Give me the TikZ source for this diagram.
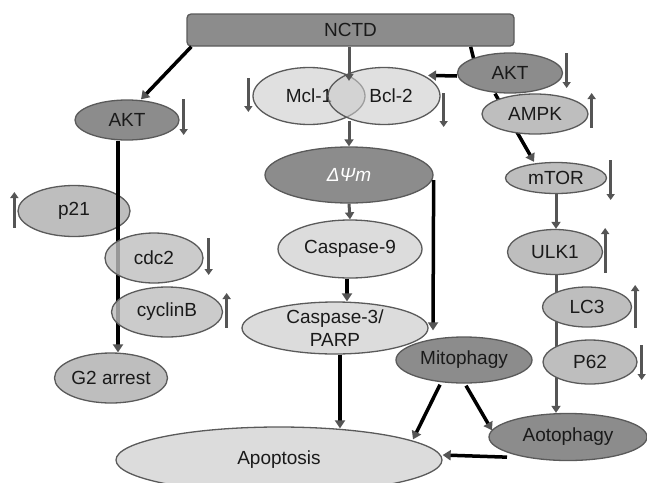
\documentclass[tikz,border=0pt]{standalone}
\usepackage{fontspec}
\setmainfont{Liberation Sans}
\usetikzlibrary{shapes.geometric,arrows.meta,calc}
\pgfdeclarelayer{bg}
\pgfsetlayers{bg,main}
\definecolor{edge}{HTML}{5A5A5A}
\definecolor{dk}{HTML}{8C8C8C}
\definecolor{md}{HTML}{BEBEBE}
\definecolor{lt}{HTML}{DCDCDC}
\definecolor{ink}{HTML}{1A1A1A}
\definecolor{gline}{HTML}{555555}
\begin{document}
\begin{tikzpicture}[x=1pt,y=-1pt,
  font=\fontsize{19}{23}\selectfont, text=ink,
  el/.style={ellipse,draw=edge,line width=1.3pt,inner sep=0pt},
  dark/.style={el,fill=dk},
  mid/.style={el,fill=md},
  light/.style={el,fill=lt},
  conn/.style={line width=3.5pt,black,-{Triangle[length=8pt,width=10pt,color=gline]}},
  gconn/.style={line width=3pt,gline,-{Triangle[length=7pt,width=9pt]}},
  plainconn/.style={line width=3.5pt,black},
  ind/.style={line width=3pt,gline},
  inddown/.style={ind,-{Triangle[length=6pt,width=8pt]}},
  indup/.style={ind,{Triangle[length=6pt,width=8pt]}-}]
\useasboundingbox (0,0) rectangle (647,482);
\clip (0,0) rectangle (647,482);

% nodes
\node[draw=edge,fill=dk,line width=1.3pt,rounded corners=4pt,minimum width=327pt,minimum height=32pt,inner sep=0pt] (nctd) at (350.5,30) {NCTD};
\node[dark,minimum width=104pt,minimum height=40pt] (akt1) at (127,120) {AKT};
\node[el,fill=md!80!white,fill opacity=0.6,text opacity=1,minimum width=112pt,minimum height=57pt] (mcl) at (309,96) {Mcl-1\hspace{16pt}};
\node[el,fill=md!80!white,fill opacity=0.6,text opacity=1,minimum width=112pt,minimum height=57pt] (bcl) at (384,96) {\hspace{14pt}Bcl-2};
\node[dark,minimum width=168pt,minimum height=56pt,text=white] (dpm) at (349,175) {\itshape ΔΨm};
\node[light,minimum width=144pt,minimum height=58pt] (cas9) at (350,249) {Caspase-9};
\node[light,minimum width=186pt,minimum height=50pt,align=center] (cas3) at (335,328) {Caspase-3/\\PARP};
\node[dark,minimum width=136pt,minimum height=46pt] (mito) at (464,360) {Mitophagy};
\node[light,minimum width=326pt,minimum height=66pt] (apo) at (279,460) {Apoptosis};
\node[dark,minimum width=158pt,minimum height=47pt] (auto) at (568,437) {Aotophagy};
\node[dark,minimum width=105pt,minimum height=40pt] (akt2) at (510,73) {AKT};
\node[mid,minimum width=106pt,minimum height=40pt] (ampk) at (535,114) {AMPK};
\node[mid,minimum width=101pt,minimum height=31pt] (mtor) at (556,178) {mTOR};
\node[mid,minimum width=95pt,minimum height=45pt] (ulk) at (555,252) {ULK1};
\node[mid,minimum width=89pt,minimum height=40pt] (lc3) at (587,307) {LC3};
\node[mid,minimum width=94pt,minimum height=44pt] (p62) at (590,362) {P62};
\node[mid,minimum width=112pt,minimum height=51pt] (p21) at (74,211) {p21};
\node[mid,minimum width=113pt,minimum height=50pt] (g2) at (111,378) {G2 arrest};

% AKT -> G2 arrest line drawn over p21, under cdc2 and cyclinB
\draw[conn] ($(akt1.south)+(-9,0)$) -- ($(g2.north)+(7,0)$);
\node[el,fill=md,fill opacity=0.8,text opacity=1,minimum width=98pt,minimum height=50pt] (cdc2) at (154,258) {cdc2};
\node[el,fill=md,fill opacity=0.8,text opacity=1,minimum width=111pt,minimum height=50pt] (cyc) at (167,312) {cyclinB};

\coordinate (ovtop) at ($(dpm.north |- mcl.north)+(0,14)$);
\coordinate (ovbot) at ($(dpm.north |- mcl.south)+(0,-4)$);

% connectors behind nodes
\begin{pgfonlayer}{bg}
  \draw[plainconn] ($(nctd.south east)+(-44,0)$) -- ($(akt2.north)+(-35,12)$);
  \draw[conn] ($(akt2.south)+(-15,0)$) -- ($(mtor.north)+(-22,0)$);
  \draw[gconn] (ulk.south -| mtor.south) -- (auto.north -| mtor.south);
\end{pgfonlayer}

% connectors on top
\draw[conn] ($(nctd.south west)+(5,0)$) -- ($(akt1.north)+(14,0)$);
\draw[gconn] (nctd.south -| ovtop) -- (ovtop);
\draw[gconn] (ovbot) -- (dpm.north);
\draw[gconn] (dpm.south) -- (cas9.north);
\draw[conn] ($(cas9.south)+(-3,0)$) -- ($(cas3.north)+(12,0)$);
\draw[conn] ($(cas3.south)+(5,0)$) -- ($(apo.north)+(61,2)$);
\draw[conn] ($(dpm.east)+(0,5)$) -- ($(mito.north)+(-31,-6)$);
\draw[conn] ($(mito.south)+(-24,1)$) -- ($(apo.north)+(134,13)$);
\draw[conn] ($(mito.south)+(2,2)$) -- ($(auto.north)+(-76,17.5)$);
\draw[conn] ($(auto.south)+(-61,-4)$) -- ($(apo.east)+(0,-5)$);
\draw[conn] ($(akt2.west)+(0,3)$) -- ($(bcl.north east)+(4,0)$);
\draw[gconn] (mtor.south) -- (mtor.south |- ulk.north);

% up/down indicators
\draw[inddown] ($(akt1.east)+(4,-21)$) -- ++(0,36);
\draw[inddown] ($(mcl.west)+(-4,-18)$) -- ++(0,34);
\draw[inddown] ($(bcl.east)+(3,-3)$) -- ++(0,34);
\draw[inddown] ($(akt2.east)+(3.5,-20)$) -- ++(0,35);
\draw[indup] ($(ampk.east)+(3,-21)$) -- ++(0,35);
\draw[inddown] ($(mtor.east)+(3.5,-18)$) -- ++(0,40);
\draw[indup] ($(ulk.east)+(2,-24)$) -- ++(0,45);
\draw[indup] ($(lc3.east)+(3,-22)$) -- ++(0,43);
\draw[inddown] ($(p62.east)+(4,-17)$) -- ++(0,35);
\draw[indup] ($(p21.west)+(-3,-19)$) -- ++(0,36);
\draw[inddown] ($(cdc2.east)+(5,-20)$) -- ++(0,37);
\draw[indup] ($(cyc.east)+(3.5,-19)$) -- ++(0,35);
\end{tikzpicture}
\end{document}
